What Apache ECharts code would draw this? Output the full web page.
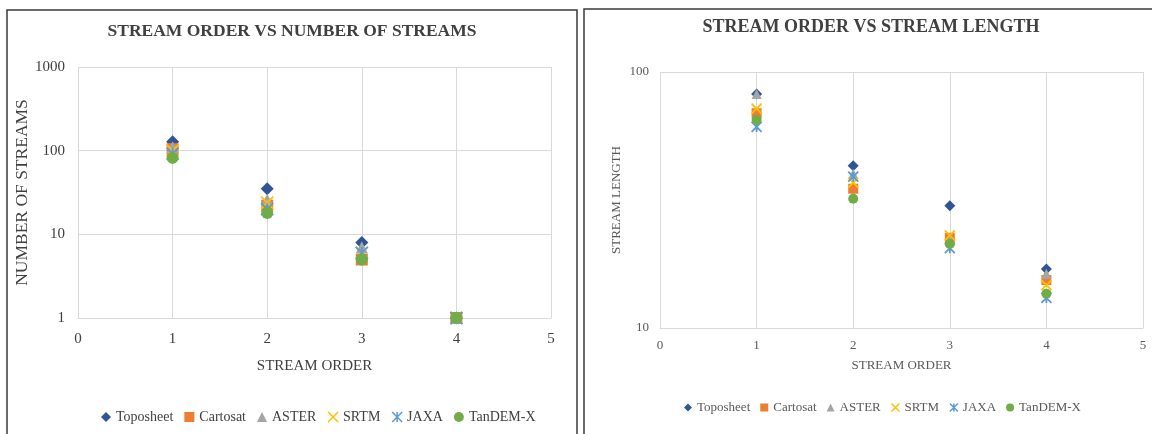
<!DOCTYPE html>
<html>
<head>
<meta charset="utf-8">
<script src="https://cdn.jsdelivr.net/npm/echarts@6/dist/echarts.min.js"></script>
<style>
  html, body { margin: 0; padding: 0; background: #fff; }
  #chart { width: 1152px; height: 434px; }
</style>
</head>
<body>
<div id="chart"></div>
<script>
// Stream order (x) shared by both panels
const streamOrder = [1, 2, 3, 4];
const seriesNames = ['Toposheet', 'Cartosat', 'ASTER', 'SRTM', 'JAXA', 'TanDEM-X'];
const xTicks = [0, 1, 2, 3, 4, 5];

// Number of streams per order (log axis)
const toposheetCount = [128, 35, 8, 1];
const cartosatCount  = [104, 22, 5, 1];
const asterCount     = [110, 26, 7, 1];
const srtmCount      = [100, 24, 6, 1];
const jaxaCount      = [92, 20, 6, 1];
const tandemxCount   = [82, 18, 5, 1];

// Stream length per order (log axis)
const toposheetLength = [82, 43, 30, 17];
const cartosatLength  = [69, 35, 22.5, 15.4];
const asterLength     = [82, 40, 22, 16.3];
const srtmLength      = [72, 37, 23, 14.7];
const jaxaLength      = [61, 39, 20.5, 13.1];
const tandemxLength   = [65, 32, 21.3, 13.6];

const countTicks = [1, 10, 100, 1000];
const lengthTicks = [10, 100];

const FONT = "'Liberation Serif', 'Times New Roman', serif";
const colors = ['#2F5597', '#ED7D31', '#A5A5A5', '#FFC000', '#5B9BD5', '#70AD47'];
const xPath = 'path://M0,0L10,10M10,0L0,10';
const starPath = 'path://M0,0L10,10M10,0L0,10M5,0L5,10';
const symbols = ['diamond', 'rect', 'triangle', xPath, starPath, 'circle'];
const strokeOnly = [false, false, false, true, true, false];

const countSets = [toposheetCount, cartosatCount, asterCount, srtmCount, jaxaCount, tandemxCount];
const lengthSets = [toposheetLength, cartosatLength, asterLength, srtmLength, jaxaLength, tandemxLength];

function pairs(values) {
  return streamOrder.map((o, i) => [o, values[i]]);
}

function makeSeries(sets, axisIndex, size) {
  return sets.map((vals, i) => ({
    name: seriesNames[i],
    type: 'scatter',
    xAxisIndex: axisIndex,
    yAxisIndex: axisIndex,
    data: pairs(vals),
    symbol: symbols[i],
    symbolSize: i === 0 ? size + 1 : size,
    symbolKeepAspect: true,
    itemStyle: strokeOnly[i]
      ? { color: 'rgba(0,0,0,0)', borderColor: colors[i], borderWidth: 1.8, opacity: 1 }
      : { color: colors[i], opacity: 1 },
    emphasis: { disabled: true }
  }));
}

function legendData() {
  return seriesNames.map((n, i) => ({
    name: n,
    icon: symbols[i],
    itemStyle: strokeOnly[i]
      ? { color: 'rgba(0,0,0,0)', borderColor: colors[i], borderWidth: 1.5 }
      : { color: colors[i], borderWidth: 0 }
  }));
}

const plainNumber = v => String(v);

const chart = echarts.init(document.getElementById('chart'));

const option = {
  backgroundColor: '#ffffff',
  animation: false,
  textStyle: { fontFamily: FONT },
  graphic: [
    { type: 'rect', shape: { x: 7, y: 10, width: 570, height: 440 },
      style: { fill: 'none', stroke: '#3a3a3a', lineWidth: 1.5 }, silent: true },
    { type: 'rect', shape: { x: 584, y: 9, width: 590, height: 440 },
      style: { fill: 'none', stroke: '#3a3a3a', lineWidth: 1.5 }, silent: true },
    { type: 'text', x: 292, y: 31, silent: true,
      style: { text: 'STREAM ORDER VS NUMBER OF STREAMS', textAlign: 'center', textVerticalAlign: 'middle',
               font: 'bold 17.5px ' + FONT, fill: '#404040' } },
    { type: 'text', x: 871, y: 27, silent: true,
      style: { text: 'STREAM ORDER VS STREAM LENGTH', textAlign: 'center', textVerticalAlign: 'middle',
               font: 'bold 18px ' + FONT, fill: '#404040' } }
  ],
  grid: [
    { left: 78, top: 67, width: 473, height: 251 },
    { left: 660, top: 72, width: 483, height: 256 }
  ],
  xAxis: [
    {
      gridIndex: 0, type: 'value', min: xTicks[0], max: xTicks[xTicks.length - 1], interval: 1,
      name: 'STREAM ORDER', nameLocation: 'middle', nameGap: 41,
      nameTextStyle: { fontFamily: FONT, fontSize: 15, color: '#404040' },
      axisLine: { show: true, lineStyle: { color: '#d9d9d9', width: 1 } },
      axisTick: { show: false },
      axisLabel: { fontFamily: FONT, fontSize: 15, color: '#404040', margin: 14 },
      splitLine: { show: true, lineStyle: { color: '#d9d9d9', width: 1 } }
    },
    {
      gridIndex: 1, type: 'value', min: xTicks[0], max: xTicks[xTicks.length - 1], interval: 1,
      name: 'STREAM ORDER', nameLocation: 'middle', nameGap: 31,
      nameTextStyle: { fontFamily: FONT, fontSize: 13, color: '#595959' },
      axisLine: { show: true, lineStyle: { color: '#d9d9d9', width: 1 } },
      axisTick: { show: false },
      axisLabel: { fontFamily: FONT, fontSize: 13, color: '#595959', margin: 11 },
      splitLine: { show: true, lineStyle: { color: '#d9d9d9', width: 1 } }
    }
  ],
  yAxis: [
    {
      gridIndex: 0, type: 'log', logBase: 10, min: countTicks[0], max: countTicks[countTicks.length - 1],
      name: 'NUMBER OF STREAMS', nameLocation: 'middle', nameGap: 45, nameRotate: 90,
      nameTextStyle: { fontFamily: FONT, fontSize: 17.5, color: '#404040' },
      axisLine: { show: false },
      axisTick: { show: false },
      axisLabel: { fontFamily: FONT, fontSize: 15, color: '#404040', margin: 13, formatter: plainNumber },
      splitLine: { show: true, lineStyle: { color: '#d9d9d9', width: 1 } }
    },
    {
      gridIndex: 1, type: 'log', logBase: 10, min: lengthTicks[0], max: lengthTicks[lengthTicks.length - 1],
      name: 'STREAM LENGTH', nameLocation: 'middle', nameGap: 37, nameRotate: 90,
      nameTextStyle: { fontFamily: FONT, fontSize: 13, color: '#595959' },
      axisLine: { show: false },
      axisTick: { show: false },
      axisLabel: { fontFamily: FONT, fontSize: 13, color: '#595959', margin: 11, formatter: plainNumber },
      splitLine: { show: true, lineStyle: { color: '#d9d9d9', width: 1 } }
    }
  ],
  legend: [
    {
      left: 96, top: 405, itemWidth: 10, itemHeight: 10, itemGap: 11,
      textStyle: { fontFamily: FONT, fontSize: 14, color: '#404040' },
      data: legendData(), selectedMode: false
    },
    {
      left: 679, top: 396, itemWidth: 8, itemHeight: 8, itemGap: 10,
      textStyle: { fontFamily: FONT, fontSize: 13, color: '#595959' },
      data: legendData(), selectedMode: false
    }
  ],
  series: makeSeries(countSets, 0, 12).concat(makeSeries(lengthSets, 1, 10))
};

chart.setOption(option);
</script>
</body>
</html>
